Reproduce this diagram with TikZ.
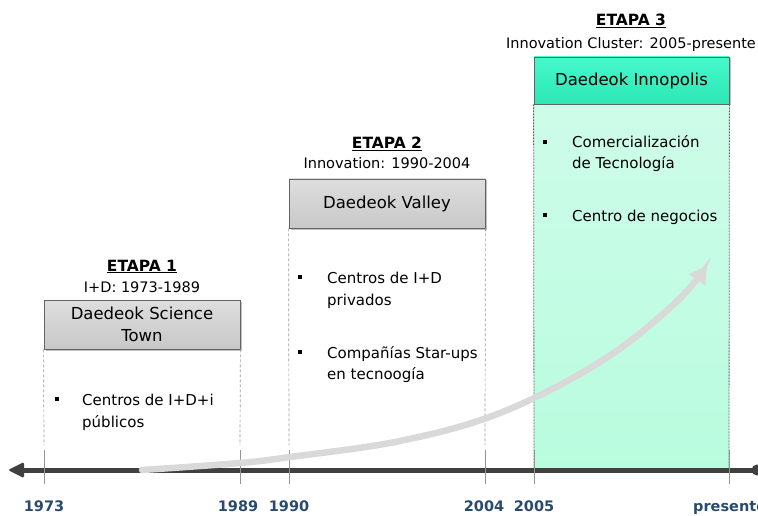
\documentclass[tikz,border=0pt]{standalone}
\usepackage{fontspec}
\setmainfont{DejaVu Sans}
\usetikzlibrary{arrows.meta,shadows}
\definecolor{tlc}{RGB}{64,64,64}
\definecolor{yrc}{RGB}{40,74,110}
\definecolor{arc}{RGB}{217,217,217}
\definecolor{hdg1}{RGB}{222,222,222}
\definecolor{hdg2}{RGB}{200,200,200}
\definecolor{grn1}{RGB}{70,248,204}
\definecolor{grn2}{RGB}{44,232,180}
\definecolor{mnt1}{RGB}{206,252,234}
\definecolor{mnt2}{RGB}{184,252,222}
\definecolor{brd}{RGB}{100,100,100}
\tikzset{
  hbox/.style={draw=brd, line width=0.8pt, minimum width=196pt, inner sep=0pt,
    align=center, font=\fontsize{16.5}{22}\selectfont,
    drop shadow={shadow xshift=1.5pt, shadow yshift=-1.5pt, opacity=0.25, fill=black}},
  head/.style={anchor=base, inner sep=0pt, font=\bfseries\fontsize{15.5}{18}\selectfont},
  sub/.style={anchor=base, inner sep=0pt, font=\fontsize{14.5}{17}\selectfont},
  itm/.style={anchor=base west, inner sep=0pt, font=\fontsize{15}{18}\selectfont},
  sq/.style={fill=black, minimum size=4.5pt, inner sep=0pt},
  yr/.style={anchor=base, inner sep=0pt, text=yrc, font=\bfseries\fontsize{14.5}{17}\selectfont},
  dline/.style={draw=gray!80, line width=0.7pt, dash pattern=on 3pt off 2pt},
  tick/.style={draw=gray!85, line width=0.9pt},
}
\begin{document}
\begin{tikzpicture}[x=1pt,y=-1pt]
\useasboundingbox (0,0) rectangle (758,516);

% stage 3 body
\path[top color=mnt1, bottom color=mnt2] (534,104) rectangle (729,470);
\coordinate (b3sw) at (534,470);
\coordinate (b3se) at (729,470);

% header boxes
\node[hbox, minimum height=49pt, top color=hdg1, bottom color=hdg2] (s1) at (142,324.5) {Daedeok Science\\Town};
\node[hbox, minimum height=49pt, top color=hdg1, bottom color=hdg2] (s2) at (387,203.5) {Daedeok Valley};
\node[hbox, minimum height=47pt, top color=grn1, bottom color=grn2, minimum width=195pt] (s3) at (631.5,80.5) {Daedeok Innopolis};

% dashed side lines
\coordinate (d1l) at (44,445);
\coordinate (d1r) at (240,445);
\coordinate (d2l) at (289,445);
\coordinate (d2r) at (485,445);
\draw[dline] (s1.south west) -- (d1l);
\draw[dline] (s1.south east) -- (d1r);
\draw[dline] (s2.south west) -- (d2l);
\draw[dline] (s2.south east) -- (d2r);
\draw[draw=brd, line width=0.8pt, dash pattern=on 2pt off 1pt] (s3.south west) -- (b3sw);
\draw[draw=brd, line width=0.8pt, dash pattern=on 2pt off 1pt] (s3.south east) -- (b3se);

% headings
\node[head] (e1) at (142,271) {\underline{ETAPA 1}};
\node[sub] (p1) at (142,292) {I+D: 1973-1989};
\node[head] (e2) at (387,149) {\underline{ETAPA 2}};
\node[sub] (p2) at (387,169) {Innovation: 1990-2004};
\node[head] (e3) at (631,26) {\underline{ETAPA 3}};
\node[sub] (p3) at (631,49) {Innovation Cluster: 2005-presente};

% bullets stage 1
\node[sq] (q11) at (57,399) {};
\node[itm] (t11) at (82,405) {Centros de I+D+i};
\node[itm] (t12) at (82,427) {públicos};
% bullets stage 2
\node[sq] (q21) at (300,277) {};
\node[itm] (t21) at (327,283) {Centros de I+D};
\node[itm] (t22) at (327,305) {privados};
\node[sq] (q22) at (300,352) {};
\node[itm] (t23) at (327,358) {Compañías Star-ups};
\node[itm] (t24) at (327,379) {en tecnoogía};
% bullets stage 3
\node[sq] (q31) at (545,142) {};
\node[itm] (t31) at (572,148) {Comercialización};
\node[itm] (t32) at (572,169) {de Tecnología};
\node[sq] (q32) at (545,215) {};
\node[itm] (t33) at (572,221) {Centro de negocios};

% timeline
\coordinate (tl0) at (20,470);
\coordinate (tl1) at (757,470);
\draw[tlc, line width=5pt] (tl0) -- (tl1);
\fill[tlc, rounded corners=1.5pt] (8,470) -- (24,462) -- (24,478) -- cycle;
\fill[tlc] (tl1) circle (5.5pt);

% ticks
\foreach \x/\n in {44/a,240/b,289/c,485/d,534/e,729/f}{
  \coordinate (tk\n1) at (\x,450);
  \coordinate (tk\n2) at (\x,484);
  \draw[tick] (tk\n1) -- (tk\n2);
}

% growth arrow
\draw[arc, line width=6.5pt, line cap=round, -{Triangle[length=17pt,width=19pt]}]
  plot[smooth, tension=0.6] coordinates {(142,470) (240,463) (290,457) (400,441) (500,413) (600,362) (672,306) (707,266)};

% years
\node[yr] (y1) at (44,511) {1973};
\node[yr] (y2) at (238,511) {1989};
\node[yr] (y3) at (289,511) {1990};
\node[yr] (y4) at (484,511) {2004};
\node[yr] (y5) at (534,511) {2005};
\node[yr, anchor=base west] (y6) at (693,511) {presente};
\end{tikzpicture}
\end{document}
